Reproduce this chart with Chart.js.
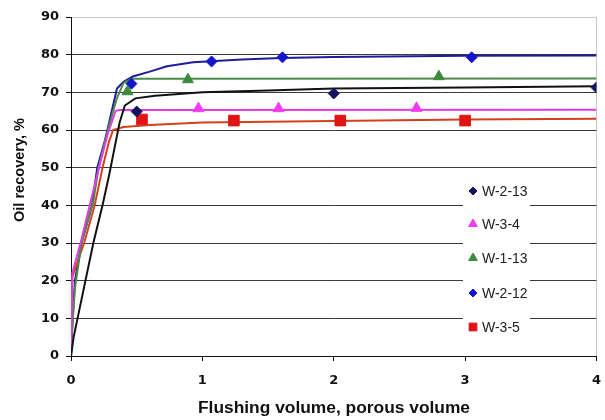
<!DOCTYPE html>
<html>
<head>
<meta charset="utf-8">
<script src="https://cdn.jsdelivr.net/npm/chart.js@4/dist/chart.umd.min.js"></script>
<style>
  html, body { margin: 0; padding: 0; background: #ffffff; }
  #wrap { width: 605px; height: 420px; }
</style>
</head>
<body>
<div id="wrap"><canvas id="c" width="605" height="420"></canvas></div>
<script>
// Axis ticks
const xTicks = [0, 1, 2, 3, 4];
const yTicks = [0, 10, 20, 30, 40, 50, 60, 70, 80, 90];

// Measured points (flushing volume, oil recovery %)
const w213Pts = [[0.50, 64.9], [2.00, 69.7], [4.00, 71.3]];
const w34Pts  = [[0.97, 65.7], [1.58, 65.7], [2.63, 65.8]];
const w113Pts = [[0.43, 70.2], [0.89, 73.4], [2.80, 74.2]];
const w212Pts = [[0.46, 72.3], [1.07, 78.2], [1.61, 79.3], [3.05, 79.3]];
const w35Pts  = [[0.54, 62.8], [1.24, 62.5], [2.05, 62.5], [3.00, 62.5]];

// Recovery curves
const w213Curve = [[0,0],[0.02,5],[0.05,10],[0.11,20],[0.17,30],[0.24,40],[0.29,48],[0.33,55],[0.37,62],[0.41,66.5],[0.49,68.4],[0.64,69.1],[1.0,70.0],[1.5,70.5],[2.0,71.0],[3.0,71.3],[4.0,71.6]];
const w34Curve  = [[0,0],[0.01,22],[0.08,31],[0.15,41],[0.22,51],[0.28,59],[0.34,65.1],[0.37,65.3],[4.0,65.4]];
const w113Curve = [[0,0],[0.01,8],[0.03,18],[0.08,30],[0.17,41],[0.21,50],[0.28,60],[0.35,68.5],[0.40,72.5],[0.46,73.6],[4.0,73.7]];
const w212Curve = [[0,0],[0.01,8],[0.03,20],[0.08,30],[0.16,40],[0.20,50],[0.26,57.5],[0.31,65],[0.35,71],[0.40,72.8],[0.47,74.2],[0.60,75.5],[0.73,76.9],[0.93,78.0],[1.3,78.7],[1.6,79.1],[2.0,79.4],[3.0,79.7],[4.0,79.8]];
const w35Curve  = [[0,0],[0.01,21],[0.02,22],[0.10,30],[0.18,40],[0.24,50],[0.29,57],[0.32,60],[0.40,60.8],[0.60,61.3],[1.0,62.0],[2.0,62.4],[3.0,62.8],[4.0,63.0]];

const seriesNames = ['W-2-13', 'W-3-4', 'W-1-13', 'W-2-12', 'W-3-5'];

const toXY = arr => arr.map(p => ({ x: p[0], y: p[1] }));

function curve(data, color) {
  return { type: 'line', data: toXY(data), borderColor: color, borderWidth: 2,
           pointRadius: 0, fill: false, tension: 0, isCurve: true, order: 2 };
}
function marks(label, data, style, color, radius) {
  return { type: 'scatter', label, data: toXY(data), pointStyle: style,
           pointRadius: radius, pointHoverRadius: radius,
           backgroundColor: color, borderColor: color, borderWidth: 1,
           showLine: false, order: 1 };
}

const datasets = [
  curve(w213Curve, '#111111'),
  curve(w34Curve,  '#e03ce0'),
  curve(w113Curve, '#4a8a4a'),
  curve(w35Curve,  '#d2401c'),
  curve(w212Curve, '#1c1c9c'),
  marks(seriesNames[0], w213Pts, 'rectRot',  '#12125e', 5.5),
  marks(seriesNames[1], w34Pts,  'triangle', '#ee3cee', 6.3),
  marks(seriesNames[2], w113Pts, 'triangle', '#3d8a3d', 6.3),
  marks(seriesNames[3], w212Pts, 'rectRot',  '#1414c8', 5.5),
  marks(seriesNames[4], w35Pts,  'rect',     '#e01414', 7.5)
];

const tickFont = { family: '"DejaVu Sans", sans-serif', size: 13, weight: 'bold' };

// Draws text centred at (x, y), stretched horizontally to a given width
function fitText(ctx, text, x, y, width) {
  const w = ctx.measureText(text).width;
  ctx.save();
  ctx.translate(x, y);
  ctx.scale(width / w, 1);
  ctx.fillText(text, 0, 0);
  ctx.restore();
}

// In-plot legend and axis titles
const decor = {
  id: 'decor',
  afterDatasetsDraw(chart) {
    const ctx = chart.ctx;
    ctx.save();
    // legend panel
    ctx.fillStyle = '#ffffff';
    ctx.fillRect(463, 178, 67, 162);
    const rowY = [191, 224, 258, 293, 327];
    const items = chart.data.datasets.filter(d => !d.isCurve);
    items.forEach((d, i) => {
      const r = d.pointStyle === 'rect' ? 5.5 : (d.pointStyle === 'triangle' ? 5 : 4);
      ctx.fillStyle = d.backgroundColor;
      ctx.strokeStyle = d.borderColor;
      ctx.lineWidth = 1;
      Chart.helpers.drawPoint(ctx, { pointStyle: d.pointStyle, radius: r, borderWidth: 1 }, 473, rowY[i]);
      ctx.fillStyle = '#222222';
      ctx.font = '14px "Liberation Sans", Arial, sans-serif';
      ctx.textAlign = 'left';
      ctx.textBaseline = 'middle';
      ctx.fillText(d.label, 482, rowY[i] + 1);
    });
    // axis titles
    ctx.fillStyle = '#111111';
    ctx.font = 'bold 16px "Liberation Sans", Arial, sans-serif';
    ctx.textAlign = 'center';
    ctx.textBaseline = 'middle';
    fitText(ctx, 'Flushing volume, porous volume', 334, 409, 272);
    ctx.translate(20, 170);
    ctx.rotate(-Math.PI / 2);
    ctx.font = 'bold 14px "Liberation Sans", Arial, sans-serif';
    fitText(ctx, 'Oil recovery, %', 0, 0, 104);
    ctx.restore();
  }
};

new Chart(document.getElementById('c'), {
  type: 'scatter',
  data: { datasets },
  options: {
    responsive: false,
    animation: false,
    layout: { padding: { left: 0, right: 8, top: 17, bottom: 0 } },
    plugins: { legend: { display: false }, tooltip: { enabled: false } },
    scales: {
      x: {
        type: 'linear', min: xTicks[0], max: xTicks[xTicks.length - 1],
        afterBuildTicks: s => { s.ticks = xTicks.map(v => ({ value: v })); },
        afterFit: s => { s.height = 64; s.paddingLeft = 0; s.paddingRight = 0; },
        border: { display: true, color: '#111111', width: 1 },
        grid: {
          drawOnChartArea: true, tickLength: 5, tickColor: '#111111',
          color: ctx => (ctx.tick && ctx.tick.value === 4) ? '#c8c8c8' : 'rgba(0,0,0,0)'
        },
        ticks: { padding: 12, color: '#111111', maxRotation: 0, font: tickFont }
      },
      y: {
        type: 'linear', min: yTicks[0], max: yTicks[yTicks.length - 1],
        afterBuildTicks: s => { s.ticks = yTicks.map(v => ({ value: v })); },
        afterFit: s => { s.width = 71; s.paddingTop = 0; s.paddingBottom = 0; },
        border: { display: true, color: '#111111', width: 1 },
        grid: {
          tickLength: 5, tickColor: '#111111', lineWidth: 1,
          color: ctx => (ctx.tick && ctx.tick.value === 90) ? '#c8c8c8' : '#3a3a3a'
        },
        ticks: { padding: 7, color: '#111111', font: tickFont }
      }
    }
  },
  plugins: [decor]
});
</script>
</body>
</html>
